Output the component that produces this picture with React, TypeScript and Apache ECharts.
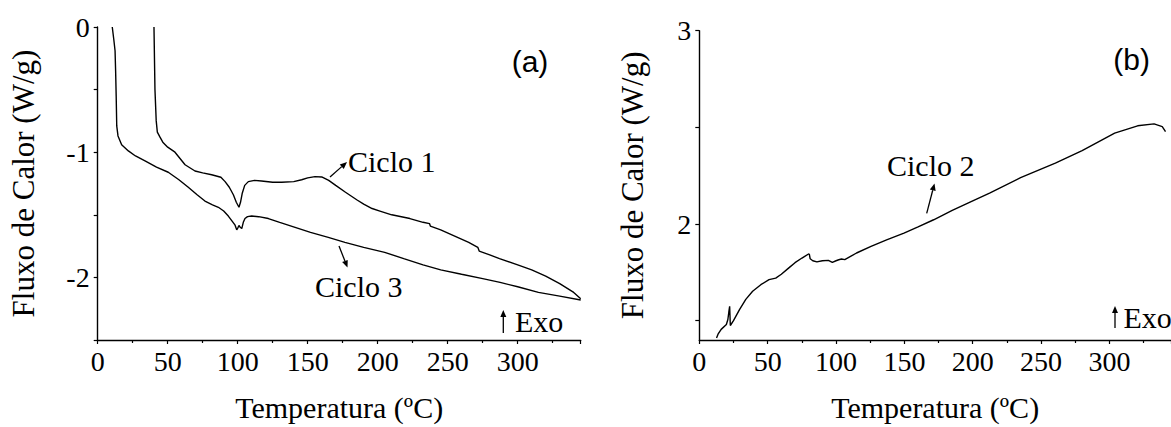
import React, { useEffect, useRef } from "react";
import * as echarts from "echarts";

// ---- Data ----
// Panel (a): temperature (ºC) vs heat flux (W/g)
const ciclo1: [number, number][] = [
  [40.2, 0], [40.9, -0.5], [41.8, -0.75], [42.6, -0.84], [44.5, -0.88], [46.5, -0.92],
  [50, -0.96], [55.2, -1.0], [62.4, -1.1], [69.5, -1.15], [75, -1.165], [81.4, -1.18],
  [88, -1.2], [91, -1.235], [94, -1.28], [96.9, -1.34], [99, -1.4], [100.9, -1.44],
  [102, -1.4], [103.2, -1.33], [105, -1.265], [107.6, -1.235], [112, -1.225], [117, -1.23],
  [125, -1.24], [131.4, -1.24], [140, -1.235], [145.7, -1.22], [150, -1.205], [155.2, -1.195],
  [160, -1.198], [165, -1.225], [170, -1.265], [177, -1.32], [185, -1.38], [190, -1.415],
  [196, -1.45], [201.6, -1.47], [210, -1.5], [223, -1.53], [232.4, -1.56], [237, -1.57],
  [237.6, -1.59], [245, -1.62], [255, -1.67], [265, -1.72], [271.5, -1.76], [272.5, -1.79],
  [280, -1.82], [287, -1.85], [300, -1.9], [310, -1.94], [320, -1.99], [330, -2.05],
  [340, -2.12], [345, -2.17],
];

const ciclo3: [number, number][] = [
  [10.4, 0], [11.5, -0.1], [12.4, -0.19], [12.8, -0.35], [13.2, -0.55], [13.6, -0.79],
  [14.5, -0.87], [17.1, -0.94], [21.9, -0.99], [27, -1.03], [33.8, -1.07], [42, -1.12],
  [50.4, -1.16], [58, -1.22], [64.7, -1.28], [71, -1.34], [76.6, -1.39], [82, -1.42],
  [86.2, -1.44], [90, -1.47], [93.3, -1.51], [96, -1.55], [98, -1.58], [99.3, -1.62],
  [100.3, -1.6], [100.9, -1.585], [101.8, -1.6], [102.9, -1.61], [104, -1.56], [105.2, -1.53],
  [107, -1.515], [110, -1.51], [115, -1.515], [121.9, -1.53], [130, -1.56], [141, -1.6],
  [152, -1.64], [164.7, -1.68], [176.6, -1.72], [190, -1.76], [205, -1.8], [218.6, -1.85],
  [232.4, -1.9], [245, -1.94], [259.9, -1.975], [275, -2.01], [287.4, -2.04], [300, -2.075],
  [314.8, -2.12], [330, -2.15], [345, -2.18],
];

// Panel (b)
const ciclo2: [number, number][] = [
  [12.6, 1.41], [13.7, 1.43], [16, 1.455], [19.8, 1.48], [20.9, 1.506], [21.6, 1.545],
  [22.2, 1.574], [22.7, 1.475], [25, 1.5], [29.4, 1.557], [34, 1.61], [39, 1.652],
  [45, 1.686], [51, 1.712], [55.9, 1.72], [60, 1.74], [65.5, 1.773], [70, 1.8],
  [75.1, 1.824], [79.9, 1.845], [80.5, 1.843], [81.1, 1.82], [83, 1.81], [86, 1.804],
  [90, 1.81], [94.4, 1.812], [97.3, 1.802], [100, 1.81], [102, 1.815], [104, 1.819],
  [106.4, 1.816], [115, 1.85], [125.6, 1.884], [137, 1.918], [149.7, 1.953], [160, 1.985],
  [171.4, 2.022], [185, 2.07], [200, 2.12], [212.3, 2.16], [235, 2.24], [260.4, 2.315],
  [280, 2.38], [303.8, 2.47], [320.6, 2.508], [332.6, 2.518], [338.6, 2.504], [341, 2.478],
];

const xRange = { min: 0, max: 345, interval: 50 };
const yRangeA = { min: -2.5, max: 0, interval: 0.5 };
const yRangeB = { min: 1.4, max: 3 };
const yTicksB = [1.5, 2, 2.5, 3];
const yLabelsB = [2, 3];

const xTitle = "Temperatura (ºC)";
const yTitle = "Fluxo de Calor (W/g)";

const SERIF = "Liberation Serif, Times New Roman, serif";
const SANS = "Liberation Sans, Arial, sans-serif";

function arrow(x1: number, y1: number, x2: number, y2: number) {
  const dx = x2 - x1, dy = y2 - y1;
  const len = Math.sqrt(dx * dx + dy * dy);
  const ux = dx / len, uy = dy / len;
  const hl = 7, hw = 3;
  const bx = x2 - ux * hl, by = y2 - uy * hl;
  return [
    { type: "line", shape: { x1, y1, x2: bx, y2: by }, style: { stroke: "#000", lineWidth: 1.3 } },
    {
      type: "polygon",
      shape: { points: [[x2, y2], [bx - uy * hw, by + ux * hw], [bx + uy * hw, by - ux * hw]] },
      style: { fill: "#000" },
    },
  ];
}

function label(text: string, x: number, y: number, font = SERIF, size = 30) {
  return {
    type: "text",
    x, y,
    style: { text, fontFamily: font, fontSize: size, fill: "#000", align: "left", verticalAlign: "middle" },
  };
}

const tickFont = { fontFamily: SERIF, fontSize: 28, color: "#000" };

export default function App() {
  const ref = useRef<HTMLDivElement>(null);
  useEffect(() => {
    if (!ref.current) return;
    const chart = echarts.init(ref.current, undefined, { renderer: "svg" });

    const axisCommon = {
      axisLine: { show: true, onZero: false, lineStyle: { color: "#000", width: 1.4 } },
      splitLine: { show: false },
      axisTick: { show: true, inside: false, length: 4, lineStyle: { color: "#000", width: 1.2 } },
    };
    const xAxisBase = (gridIndex: number) => ({
      type: "value",
      gridIndex,
      ...xRange,
      ...axisCommon,
      minorTick: { show: true, splitNumber: 2, length: 3, lineStyle: { color: "#000", width: 1.2 } },
      axisLabel: { ...tickFont, margin: 7, showMaxLabel: false },
      name: xTitle,
      nameLocation: "middle",
      nameGap: 52,
      nameTextStyle: { fontFamily: SERIF, fontSize: 30, color: "#000" },
    });

    chart.setOption({
      animation: false,
      backgroundColor: "#fff",
      textStyle: { fontFamily: SERIF, color: "#000" },
      grid: [
        { left: 97.7, top: 27, width: 483, height: 314.7 },
        { left: 699.3, top: 30.7, width: 477.8, height: 311 },
      ],
      xAxis: [xAxisBase(0), xAxisBase(1)],
      yAxis: [
        {
          type: "value",
          gridIndex: 0,
          ...yRangeA,
          ...axisCommon,
          axisLabel: {
            ...tickFont, margin: 8,
            formatter: (v: number) => (Number.isInteger(v) ? String(v) : ""),
          },
          name: yTitle,
          nameLocation: "middle",
          nameGap: 59,
          nameTextStyle: { fontFamily: SERIF, fontSize: 31, color: "#000" },
        },
        {
          type: "value",
          gridIndex: 1,
          ...yRangeB,
          ...axisCommon,
          axisTick: { ...axisCommon.axisTick, customValues: yTicksB },
          axisLabel: { ...tickFont, margin: 8, customValues: yLabelsB },
          name: yTitle,
          nameLocation: "middle",
          nameGap: 51,
          nameTextStyle: { fontFamily: SERIF, fontSize: 31, color: "#000" },
        },
      ],
      series: [
        { name: "Ciclo 1", type: "line", xAxisIndex: 0, yAxisIndex: 0, data: ciclo1, showSymbol: false, symbol: "none", lineStyle: { color: "#000", width: 1.4 } },
        { name: "Ciclo 3", type: "line", xAxisIndex: 0, yAxisIndex: 0, data: ciclo3, showSymbol: false, symbol: "none", lineStyle: { color: "#000", width: 1.4 } },
        { name: "Ciclo 2", type: "line", xAxisIndex: 1, yAxisIndex: 1, data: ciclo2, showSymbol: false, symbol: "none", lineStyle: { color: "#000", width: 1.4 } },
      ],
      graphic: [
        label("Ciclo 1", 348, 161.5),
        ...arrow(330, 177, 347, 162),
        label("Ciclo 3", 315, 286.5),
        ...arrow(339, 246, 347.5, 267.5),
        label("Ciclo 2", 887, 165),
        ...arrow(926.7, 213.3, 934.5, 183.5),
        label("(a)", 511.7, 61.6, SANS, 30),
        label("(b)", 1113.3, 59.6, SANS, 30),
        ...arrow(503.3, 333, 503.3, 310),
        label("Exo", 515, 321.7),
        ...arrow(1115, 328, 1115, 306),
        label("Exo", 1123.4, 317.5),
      ],
    });
    return () => chart.dispose();
  }, []);
  return (
    <div
      ref={ref}
      style={{ position: "absolute", left: 0, top: 0, width: 1171, height: 427, background: "#fff" }}
    />
  );
}
